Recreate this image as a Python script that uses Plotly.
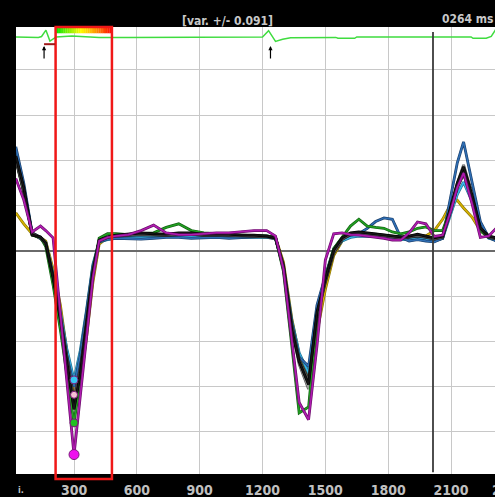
import plotly.graph_objects as go

# ---------------- data ----------------
ms_x = [22, 60, 100, 140, 165, 200, 235, 265, 300, 330, 360, 390, 420, 460, 500,
        560, 620, 680, 740, 800, 860, 920, 980, 1040, 1100, 1160, 1220, 1262, 1300, 1340,
        1375, 1420, 1460, 1500, 1540, 1580, 1620, 1660, 1700, 1740, 1780, 1820, 1860, 1900, 1940,
        1980, 2020, 2060, 2100, 2130, 2160, 2200, 2240, 2280, 2316]

gray_vals = [2.05, 1.32, 0.36, 0.29, 0.16, -0.58, -1.50, -2.45, -3.40, -2.65, -1.60, -0.48, 0.23, 0.30, 0.34,
             0.36, 0.37, 0.36, 0.36, 0.38, 0.38, 0.35, 0.36, 0.35, 0.34, 0.34, 0.32, 0.29, -0.38, -1.72,
             -2.50, -3.05, -1.55, -0.70, 0.00, 0.27, 0.37, 0.40, 0.39, 0.37, 0.35, 0.32, 0.30, 0.32, 0.35,
             0.32, 0.28, 0.32, 0.98, 1.50, 1.90, 1.28, 0.52, 0.32, 0.28]
white_vals = [2.15, 1.38, 0.38, 0.28, 0.20, -0.50, -1.40, -2.30, -3.35, -2.80, -1.70, -0.55, 0.20, 0.28, 0.32,
              0.34, 0.35, 0.33, 0.34, 0.36, 0.36, 0.33, 0.34, 0.33, 0.32, 0.31, 0.30, 0.27, -0.38, -1.70,
              -2.30, -2.65, -1.50, -0.75, -0.05, 0.24, 0.34, 0.37, 0.36, 0.34, 0.32, 0.29, 0.26, 0.28, 0.31,
              0.28, 0.24, 0.28, 0.95, 1.45, 1.80, 1.30, 0.55, 0.32, 0.27]
pink_vals = [2.10, 1.35, 0.38, 0.30, 0.18, -0.55, -1.45, -2.35, -3.18, -2.55, -1.55, -0.45, 0.22, 0.30, 0.34,
             0.35, 0.36, 0.35, 0.35, 0.37, 0.37, 0.35, 0.35, 0.35, 0.34, 0.33, 0.32, 0.29, -0.35, -1.70,
             -2.40, -2.80, -1.40, -0.65, 0.00, 0.26, 0.36, 0.39, 0.38, 0.36, 0.34, 0.31, 0.29, 0.31, 0.34,
             0.31, 0.27, 0.31, 0.92, 1.45, 1.78, 1.22, 0.50, 0.31, 0.28]
gold_vals = [0.84, 0.60, 0.38, 0.30, 0.22, -0.40, -1.20, -2.20, -3.20, -2.90, -1.90, -0.70, 0.15, 0.30, 0.33,
             0.34, 0.35, 0.34, 0.34, 0.36, 0.36, 0.34, 0.35, 0.34, 0.33, 0.33, 0.32, 0.30, -0.25, -1.50,
             -2.30, -2.85, -1.80, -0.85, -0.10, 0.22, 0.35, 0.38, 0.37, 0.35, 0.33, 0.31, 0.30, 0.32, 0.35,
             0.33, 0.45, 0.70, 1.05, 1.12, 0.95, 0.75, 0.45, 0.30, 0.30]
cyan_vals = [2.20, 1.40, 0.40, 0.30, 0.18, -0.50, -1.35, -2.15, -2.85, -2.20, -1.30, -0.30, 0.20, 0.25, 0.28,
             0.30, 0.30, 0.31, 0.31, 0.32, 0.31, 0.30, 0.31, 0.30, 0.30, 0.30, 0.30, 0.28, -0.35, -1.55,
             -2.25, -2.70, -1.30, -0.55, 0.00, 0.22, 0.30, 0.33, 0.33, 0.32, 0.30, 0.27, 0.25, 0.26, 0.28,
             0.26, 0.22, 0.28, 0.85, 1.25, 1.52, 1.10, 0.48, 0.28, 0.24]
blue_vals = [2.30, 1.50, 0.40, 0.28, 0.15, -0.55, -1.45, -2.30, -3.00, -2.30, -1.35, -0.35, 0.20, 0.26, 0.28,
             0.27, 0.26, 0.28, 0.30, 0.30, 0.28, 0.29, 0.30, 0.28, 0.30, 0.32, 0.33, 0.30, -0.40, -1.60,
             -2.35, -2.55, -1.20, -0.55, 0.05, 0.28, 0.35, 0.38, 0.50, 0.65, 0.73, 0.70, 0.30, 0.22, 0.25,
             0.22, 0.20, 0.28, 1.20, 1.95, 2.41, 1.55, 0.65, 0.30, 0.22]
green_vals = [2.05, 1.30, 0.35, 0.30, 0.10, -0.75, -1.75, -2.75, -3.80, -2.85, -1.70, -0.45, 0.28, 0.38, 0.38,
              0.36, 0.38, 0.40, 0.52, 0.60, 0.45, 0.40, 0.38, 0.36, 0.35, 0.34, 0.33, 0.30, -0.45, -2.10,
              -3.58, -3.45, -1.50, -0.60, 0.05, 0.30, 0.55, 0.70, 0.55, 0.52, 0.50, 0.42, 0.38, 0.42, 0.50,
              0.53, 0.45, 0.45, 0.95, 1.40, 1.70, 1.15, 0.45, 0.30, 0.28]
dgray_vals = [2.00, 1.30, 0.40, 0.30, 0.15, -0.55, -1.45, -2.35, -3.30, -2.60, -1.55, -0.45, 0.22, 0.30, 0.33,
              0.35, 0.36, 0.35, 0.34, 0.36, 0.37, 0.34, 0.35, 0.34, 0.33, 0.32, 0.31, 0.28, -0.30, -1.65,
              -2.40, -2.85, -1.45, -0.70, -0.05, 0.25, 0.36, 0.38, 0.37, 0.35, 0.33, 0.30, 0.28, 0.30, 0.33,
              0.30, 0.26, 0.30, 0.90, 1.42, 1.75, 1.20, 0.50, 0.30, 0.27]
black_vals = [2.10, 1.41, 0.35, 0.31, 0.18, -0.60, -1.52, -2.41, -3.50, -2.72, -1.66, -0.50, 0.24, 0.31, 0.35,
              0.37, 0.40, 0.38, 0.37, 0.40, 0.40, 0.37, 0.38, 0.37, 0.35, 0.35, 0.33, 0.29, -0.35, -1.75,
              -2.45, -2.95, -1.35, -0.62, 0.02, 0.29, 0.40, 0.42, 0.40, 0.38, 0.36, 0.33, 0.31, 0.33, 0.37,
              0.33, 0.29, 0.33, 0.97, 1.50, 1.86, 1.24, 0.51, 0.33, 0.29]
magenta_vals = [1.60, 1.13, 0.42, 0.55, 0.45, 0.29, -1.40, -2.80, -4.50, -3.20, -1.90, -0.60, 0.22, 0.30, 0.33,
                0.36, 0.45, 0.57, 0.40, 0.36, 0.36, 0.38, 0.40, 0.40, 0.42, 0.45, 0.45, 0.33, -0.40, -2.00,
                -3.35, -3.73, -2.10, -0.20, 0.38, 0.40, 0.36, 0.35, 0.33, 0.30, 0.28, 0.24, 0.24, 0.40, 0.64,
                0.60, 0.32, 0.35, 0.90, 1.40, 1.72, 1.05, 0.30, 0.33, 0.50]

var_x = [22, 80, 130, 145, 166, 185, 200, 215, 290, 420, 560, 900, 1150, 1200, 1229,
         1262, 1296, 1334, 1550, 1560, 1640, 1650, 2196, 2205, 2268, 2282, 2292, 2316]
var_vals = [4.73, 4.72, 4.72, 4.74, 4.88, 4.64, 4.68, 4.73, 4.75, 4.72, 4.72, 4.73, 4.73, 4.73, 4.87,
            4.63, 4.68, 4.71, 4.72, 4.70, 4.70, 4.73, 4.73, 4.70, 4.70, 4.73, 4.74, 4.91]

tick_vals = [300, 600, 900, 1200, 1500, 1800, 2100]
tick_text = ["300", "600", "900", "1200", "1500", "1800", "2100"]

arrow_ms = [157, 1238]
window_ms = [212, 481]
cursor_ms = 2014
title_text = "[var. +/- 0.091]"
time_text = "0264 ms"

# ---------------- figure ----------------
FONT = "Liberation Sans Narrow, DejaVu Sans Condensed, Arial Narrow, sans-serif"
fig = go.Figure()

series = [
    (gray_vals, "#9a9a9a", "#555555"),
    (white_vals, "#ffffff", "#333333"),
    (pink_vals, "#f2b0c8", "#555555"),
    (gold_vals, "#d8b400", "#8a7300"),
    (cyan_vals, "#38b8ea", "#1d6f90"),
    (blue_vals, "#2f6fb5", "#1b3f6b"),
    (green_vals, "#22a022", "#126012"),
    (dgray_vals, "#505050", "#222222"),
    (black_vals, "#161616", "#000000"),
    (magenta_vals, "#b01cb0", "#6a0c6a"),
]
for vals, col, edge in series:
    fig.add_trace(go.Scatter(x=ms_x, y=vals, mode="lines", line=dict(color=edge, width=2.8),
                             hoverinfo="skip", showlegend=False))
    fig.add_trace(go.Scatter(x=ms_x, y=vals, mode="lines", line=dict(color=col, width=1.5),
                             hoverinfo="skip", showlegend=False))

# variance trace at top
fig.add_trace(go.Scatter(x=var_x, y=var_vals, mode="lines", line=dict(color="#3fdc3f", width=1.5),
                         hoverinfo="skip", showlegend=False))

# markers at the first minimum
i_min = ms_x.index(300)
for vals, col, size in [(cyan_vals, "#38c8f0", 8), (pink_vals, "#f6c0d4", 7),
                        (green_vals, "#22c022", 8), (magenta_vals, "#ee10ee", 10)]:
    fig.add_trace(go.Scatter(x=[ms_x[i_min]], y=[vals[i_min]], mode="markers",
                             marker=dict(color=col, size=size, line=dict(color="#7a1a7a", width=1)),
                             hoverinfo="skip", showlegend=False))

shapes = []
# gradient bar on top of the window
gx0, gx1 = window_ms[0] + 3, window_ms[1] - 3
stops = [(0.0, (0, 230, 0)), (0.2, (120, 240, 0)), (0.45, (255, 250, 0)), (0.7, (255, 160, 0)), (1.0, (255, 10, 0))]
N = 30
for k in range(N):
    t = (k + 0.5) / N
    for j in range(len(stops) - 1):
        if stops[j][0] <= t <= stops[j + 1][0]:
            a, ca = stops[j]
            b, cb = stops[j + 1]
            f = (t - a) / (b - a)
            c = tuple(int(ca[i] + (cb[i] - ca[i]) * f) for i in range(3))
            break
    shapes.append(dict(type="rect", xref="x", yref="paper",
                       x0=gx0 + (gx1 - gx0) * k / N, x1=gx0 + (gx1 - gx0) * (k + 1) / N + 1,
                       y0=0.986, y1=1.0, line=dict(width=0), fillcolor="rgb(%d,%d,%d)" % c))
# red window
shapes.append(dict(type="rect", xref="x", yref="paper", x0=window_ms[0], x1=window_ms[1],
                   y0=-0.011, y1=1.0, line=dict(color="#f01818", width=2.5), fillcolor="rgba(0,0,0,0)"))
# cursor line
shapes.append(dict(type="line", xref="x", yref="paper", x0=cursor_ms, x1=cursor_ms,
                   y0=0.004, y1=0.989, line=dict(color="#3a3a3a", width=1.8)))
# small dark red mark near first arrow
shapes.append(dict(type="line", xref="x", yref="y", x0=arrow_ms[0], x1=window_ms[0] - 2,
                   y0=4.57, y1=4.57, line=dict(color="#a01818", width=2)))

annotations = []
for a in arrow_ms:
    annotations.append(dict(x=a, y=4.53, xref="x", yref="y", text="", showarrow=True,
                            ax=0, ay=14, arrowhead=2, arrowsize=0.7, arrowwidth=1.2, arrowcolor="#000000"))
annotations.append(dict(x=(227 - 16) / 479, y=1.0, xref="paper", yref="paper", yanchor="bottom",
                        yshift=-3, text=title_text, showarrow=False,
                        font=dict(family=FONT, size=12, color="#c8c8c8", weight="bold")))
annotations.append(dict(x=1.0, y=1.0, xref="paper", yref="paper", xanchor="right",
                        yanchor="bottom", yshift=-1, xshift=0, text=time_text, showarrow=False,
                        font=dict(family=FONT, size=12, color="#c8c8c8", weight="bold")))
annotations.append(dict(x=(490 - 16) / 479, y=0, xref="paper", yref="paper", xanchor="left",
                        yanchor="top", yshift=-6, text="2400", showarrow=False,
                        font=dict(family=FONT, size=14, color="#c0c0c0", weight="bold")))
annotations.append(dict(x=0, y=0, xref="paper", yref="paper", xanchor="left",
                        yanchor="top", yshift=-9, text="i.", showarrow=False,
                        font=dict(family=FONT, size=9, color="#c0c0c0", weight="bold")))

fig.update_layout(
    width=495, height=497,
    margin=dict(l=16, r=0, t=27, b=23, pad=0),
    paper_bgcolor="#000000", plot_bgcolor="#ffffff",
    showlegend=False,
    shapes=shapes, annotations=annotations,
    xaxis=dict(range=[23, 2310], tickmode="array", tickvals=tick_vals, ticktext=tick_text,
               showgrid=True, gridcolor="#c8c8c8", gridwidth=1, zeroline=False, showline=False,
               ticks="", ticklabelstandoff=6,
               tickfont=dict(family=FONT, size=14, color="#c0c0c0", weight="bold")),
    yaxis=dict(range=[-4.93, 4.95], dtick=1, tick0=0, showgrid=True, gridcolor="#c8c8c8", gridwidth=1,
               showticklabels=False, zeroline=True, zerolinecolor="#6a6a6a", zerolinewidth=2,
               showline=False, ticks=""),
)

fig.write_html("out.html", config={"displayModeBar": False},
               post_script="document.body.style.margin='0';document.body.style.padding='0';"
                           "document.body.style.background='#000';document.body.style.overflow='hidden';")
